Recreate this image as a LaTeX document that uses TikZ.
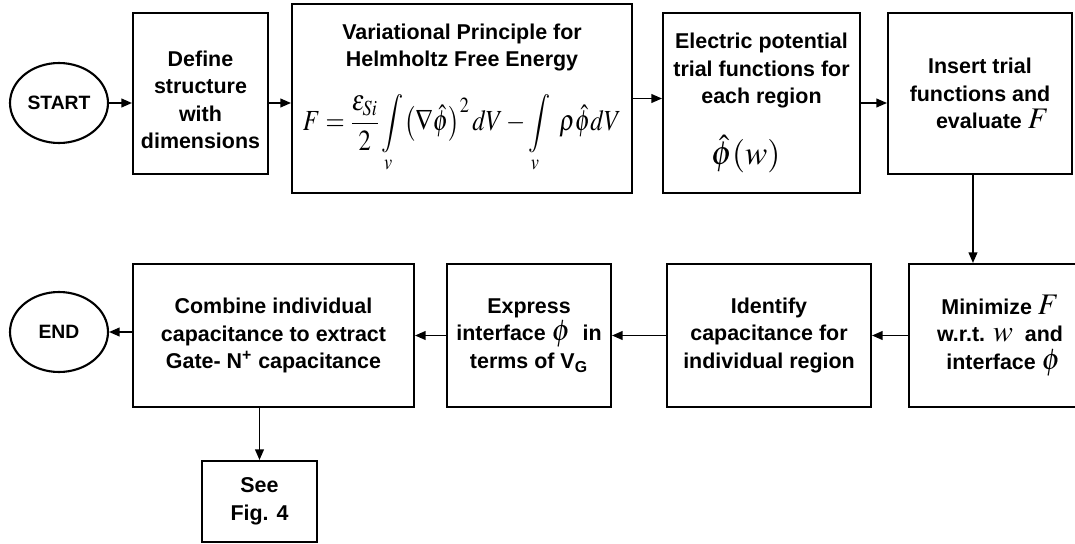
\documentclass[tikz,border=0pt]{standalone}
\usepackage{graphicx}
\usepackage{mathptmx}
\usepackage[no-math]{fontspec}
\setmainfont{Liberation Sans}
\usetikzlibrary{shapes.geometric,arrows.meta}
\newcommand{\boxfont}{\bfseries\fontsize{12.2}{15.7}\selectfont}
\newcommand{\bigmath}{\fontsize{19}{22}\selectfont}
\newcommand{\mv}[1]{{\fontsize{17}{15.7}\selectfont$#1$}}

\begin{document}
\begin{tikzpicture}[x=0.02cm, y=-0.02cm,
  every node/.style={font=\boxfont, align=center, inner sep=0pt},
  box/.style={draw, line width=1.2pt, rectangle},
  term/.style={draw, line width=1.2pt, ellipse, minimum width=1.96cm,
    minimum height=1.6cm, font=\bfseries\fontsize{11}{13}\selectfont},
  arr/.style={line width=0.8pt, -{Triangle[length=6pt,width=5pt]}}]
  \useasboundingbox (0,0) rectangle (1075,544);

  % top row
  \node[term] (start) at (59,103) {START};
  \node[box, minimum width=2.7cm, minimum height=3.22cm] (define) at (200.5,93.5)
  {\rule{0pt}{16pt}Define\\structure\\with\\dimensions};
  \node[box, minimum width=6.8cm, minimum height=3.78cm] (var) at (462,98.5)
  {Variational Principle for\\Helmholtz Free Energy\\[12pt]
  \resizebox*{181pt}{45pt}{\bigmath$\displaystyle F=\frac{\varepsilon_{Si}}{2}\int\limits_{v}\!\left(\nabla\hat{\phi}\right)^{2}dV
  -\int\limits_{v}\;\rho\hat{\phi}dV$}};
  \node[box, minimum width=3.94cm, minimum height=3.6cm] (elec) at (761.5,103)
  {Electric potential\\trial functions for\\each region\\[14pt]
  {\bigmath$\hat{\phi}(w)$}\hspace*{18pt}};
  \node[box, minimum width=3.68cm, minimum height=3.22cm] (insert) at (980,93.5)
  {Insert trial\\functions and\\\hspace*{14pt}evaluate \mv{F}};

  % bottom row
  \node[box, minimum width=3.64cm, minimum height=2.86cm] (minim) at (1000,335.5)
  {Minimize \mv{F}\\w.r.t. \mv{w}\ \ and\\\hspace*{4pt}interface \mv{\phi}};
  \node[box, minimum width=4.08cm, minimum height=2.86cm] (identify) at (769,335.5)
  {Identify\\capacitance for\\individual region};
  \node[box, minimum width=3.28cm, minimum height=2.86cm] (express) at (529,335.5)
  {Express\\interface \mv{\phi}\ \ in\\terms of V\textsubscript{G}};
  \node[box, minimum width=5.62cm, minimum height=2.86cm] (combine) at (273.5,335.5)
  {Combine individual\\capacitance to extract\\Gate- N\textsuperscript{+} capacitance};
  \node[term] (end) at (59,332) {END};
  \node[box, minimum width=2.3cm, minimum height=1.62cm] (see) at (259.5,501.5)
  {See\\Fig. 4};

  % connectors
  \draw[arr] (start.east) -- (start.east -| define.west);
  \draw[arr] (start -| define.east) -- (start -| var.west);
  \draw[arr] (var.east) -- (var.east -| elec.west);
  \draw[arr] (elec.east) -- (elec.east -| insert.west);
  \draw[arr] ([xshift=-4pt]insert.south) -- ([xshift=-4pt]insert.south |- minim.north);
  \draw[arr] (minim.west) -- (identify.east);
  \draw[arr] (identify.west) -- (express.east);
  \draw[arr] (express.west) -- (combine.east);
  \draw[arr] (combine.west |- end.east) -- (end.east);
  \draw[arr] (combine.south -| see.north) -- (see.north);
\end{tikzpicture}
\end{document}
